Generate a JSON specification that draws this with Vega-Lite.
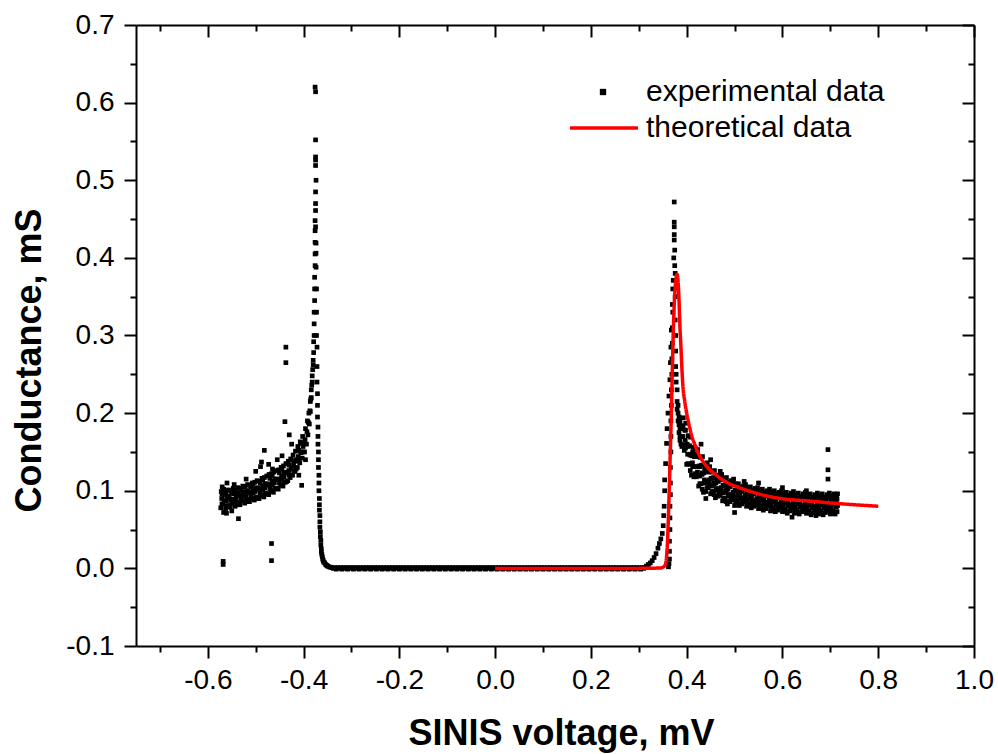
{
"$schema": "https://vega.github.io/schema/vega-lite/v6.json",
"width": 838, "height": 621,
"autosize": {"type": "none"},
"padding": {"left": 136, "top": 25, "right": 24, "bottom": 108},
"background": "white",
"config": {
 "view": {"stroke": null},
 "axis": {"domainColor": "black", "domainWidth": 2, "tickColor": "black", "tickWidth": 2, "labelFont": "Liberation Sans", "labelFontSize": 28, "labelColor": "black", "titleFont": "Liberation Sans", "titleFontSize": 36, "titleFontWeight": "bold", "titleColor": "black", "grid": false, "labelOverlap": false, "labelFlush": false},
 "legend": {"labelFont": "Liberation Sans", "labelFontSize": 30, "labelColor": "black", "padding": 0, "labelLimit": 500}
},
"datasets": {
"exp": [
{"x":-0.573,"y":0.078},{"x":-0.571,"y":0.090},{"x":-0.572,"y":0.099},
{"x":-0.568,"y":0.083},{"x":-0.566,"y":0.095},{"x":-0.567,"y":0.102},{"x":-0.567,"y":0.072},
{"x":-0.563,"y":0.077},{"x":-0.561,"y":0.087},{"x":-0.562,"y":0.098},
{"x":-0.558,"y":0.081},{"x":-0.556,"y":0.093},{"x":-0.557,"y":0.101},
{"x":-0.553,"y":0.079},{"x":-0.551,"y":0.089},{"x":-0.552,"y":0.100},
{"x":-0.548,"y":0.084},{"x":-0.546,"y":0.096},{"x":-0.547,"y":0.103},
{"x":-0.543,"y":0.080},{"x":-0.541,"y":0.091},{"x":-0.542,"y":0.101},
{"x":-0.538,"y":0.085},{"x":-0.536,"y":0.097},{"x":-0.537,"y":0.104},
{"x":-0.533,"y":0.082},{"x":-0.531,"y":0.092},{"x":-0.532,"y":0.103},
{"x":-0.528,"y":0.087},{"x":-0.526,"y":0.098},{"x":-0.527,"y":0.106},
{"x":-0.523,"y":0.084},{"x":-0.521,"y":0.095},{"x":-0.522,"y":0.105},
{"x":-0.518,"y":0.089},{"x":-0.516,"y":0.100},{"x":-0.517,"y":0.108},
{"x":-0.513,"y":0.086},{"x":-0.511,"y":0.097},{"x":-0.512,"y":0.107},
{"x":-0.508,"y":0.090},{"x":-0.506,"y":0.102},{"x":-0.507,"y":0.110},
{"x":-0.503,"y":0.088},{"x":-0.501,"y":0.099},{"x":-0.502,"y":0.111},
{"x":-0.498,"y":0.092},{"x":-0.496,"y":0.104},{"x":-0.497,"y":0.113},
{"x":-0.493,"y":0.090},{"x":-0.491,"y":0.101},{"x":-0.492,"y":0.112},
{"x":-0.488,"y":0.094},{"x":-0.486,"y":0.106},{"x":-0.487,"y":0.116},
{"x":-0.483,"y":0.092},{"x":-0.481,"y":0.104},{"x":-0.482,"y":0.117},
{"x":-0.478,"y":0.097},{"x":-0.476,"y":0.109},{"x":-0.477,"y":0.119},
{"x":-0.473,"y":0.095},{"x":-0.471,"y":0.107},{"x":-0.472,"y":0.121},
{"x":-0.468,"y":0.100},{"x":-0.466,"y":0.112},{"x":-0.467,"y":0.122},
{"x":-0.463,"y":0.098},{"x":-0.461,"y":0.110},{"x":-0.462,"y":0.124},
{"x":-0.458,"y":0.103},{"x":-0.456,"y":0.115},{"x":-0.457,"y":0.126},
{"x":-0.453,"y":0.102},{"x":-0.451,"y":0.114},{"x":-0.452,"y":0.127},
{"x":-0.448,"y":0.107},{"x":-0.446,"y":0.119},{"x":-0.447,"y":0.130},
{"x":-0.443,"y":0.106},{"x":-0.441,"y":0.118},{"x":-0.442,"y":0.132},
{"x":-0.438,"y":0.111},{"x":-0.436,"y":0.123},{"x":-0.437,"y":0.135},
{"x":-0.433,"y":0.113},{"x":-0.431,"y":0.126},{"x":-0.432,"y":0.138},
{"x":-0.428,"y":0.117},{"x":-0.426,"y":0.130},{"x":-0.427,"y":0.141},
{"x":-0.423,"y":0.120},{"x":-0.421,"y":0.133},{"x":-0.422,"y":0.146},
{"x":-0.418,"y":0.125},{"x":-0.416,"y":0.138},{"x":-0.417,"y":0.151},
{"x":-0.413,"y":0.130},{"x":-0.411,"y":0.144},{"x":-0.412,"y":0.157},
{"x":-0.408,"y":0.136},{"x":-0.406,"y":0.150},{"x":-0.407,"y":0.163},
{"x":-0.403,"y":0.142},{"x":-0.401,"y":0.157},{"x":-0.402,"y":0.170},
{"x":-0.398,"y":0.150},{"x":-0.397,"y":0.166},{"x":-0.396,"y":0.180},
{"x":-0.394,"y":0.160},{"x":-0.393,"y":0.176},{"x":-0.392,"y":0.190},
{"x":-0.391,"y":0.172},{"x":-0.390,"y":0.188},{"x":-0.389,"y":0.200},
{"x":-0.388,"y":0.186},{"x":-0.387,"y":0.203},{"x":-0.386,"y":0.215},
{"x":-0.386,"y":0.202},{"x":-0.385,"y":0.218},{"x":-0.384,"y":0.230},
{"x":-0.384,"y":0.220},{"x":-0.383,"y":0.236},{"x":-0.382,"y":0.248},
{"x":-0.382,"y":0.240},{"x":-0.381,"y":0.256},{"x":-0.380,"y":0.268},
{"x":-0.380,"y":0.262},{"x":-0.379,"y":0.278},{"x":-0.379,"y":0.292},
{"x":-0.378,"y":0.300},{"x":-0.378,"y":0.315},{"x":-0.378,"y":0.330},
{"x":-0.377,"y":0.345},{"x":-0.377,"y":0.360},{"x":-0.377,"y":0.375},
{"x":-0.376,"y":0.390},{"x":-0.376,"y":0.405},{"x":-0.376,"y":0.420},
{"x":-0.5705,"y":0.083},{"x":-0.5705,"y":0.096},{"x":-0.5655,"y":0.087},{"x":-0.5655,"y":0.099},{"x":-0.5605,"y":0.080},{"x":-0.5605,"y":0.092},{"x":-0.5555,"y":0.091},{"x":-0.5555,"y":0.079},{"x":-0.5505,"y":0.084},{"x":-0.5505,"y":0.097},{"x":-0.5455,"y":0.089},{"x":-0.5455,"y":0.101},{"x":-0.5405,"y":0.083},{"x":-0.5405,"y":0.095},{"x":-0.5355,"y":0.094},{"x":-0.5355,"y":0.082},{"x":-0.5305,"y":0.088},{"x":-0.5305,"y":0.101},{"x":-0.5255,"y":0.093},{"x":-0.5255,"y":0.105},{"x":-0.5205,"y":0.087},{"x":-0.5205,"y":0.099},{"x":-0.5155,"y":0.098},{"x":-0.5155,"y":0.086},{"x":-0.5105,"y":0.092},{"x":-0.5105,"y":0.105},{"x":-0.5055,"y":0.097},{"x":-0.5055,"y":0.109},{"x":-0.5005,"y":0.091},{"x":-0.5005,"y":0.103},{"x":-0.4955,"y":0.102},{"x":-0.4955,"y":0.090},{"x":-0.4905,"y":0.097},{"x":-0.4905,"y":0.110},{"x":-0.4855,"y":0.102},{"x":-0.4855,"y":0.114},{"x":-0.4805,"y":0.097},{"x":-0.4805,"y":0.109},{"x":-0.4755,"y":0.108},{"x":-0.4755,"y":0.096},{"x":-0.4705,"y":0.103},{"x":-0.4705,"y":0.116},{"x":-0.4655,"y":0.108},{"x":-0.4655,"y":0.120},{"x":-0.4605,"y":0.103},{"x":-0.4605,"y":0.115},{"x":-0.4555,"y":0.115},{"x":-0.4555,"y":0.103},{"x":-0.4505,"y":0.110},{"x":-0.4505,"y":0.123},{"x":-0.4455,"y":0.116},{"x":-0.4455,"y":0.128},{"x":-0.4405,"y":0.111},{"x":-0.4405,"y":0.123},{"x":-0.4355,"y":0.124},{"x":-0.4355,"y":0.112},{"x":-0.4305,"y":0.120},{"x":-0.4305,"y":0.133},{"x":-0.4255,"y":0.128},{"x":-0.4255,"y":0.140},{"x":-0.4205,"y":0.125},{"x":-0.4205,"y":0.137},{"x":-0.4155,"y":0.140},{"x":-0.4155,"y":0.128},{"x":-0.4105,"y":0.139},{"x":-0.4105,"y":0.152},{"x":-0.4055,"y":0.149},{"x":-0.4055,"y":0.161},{"x":-0.4005,"y":0.150},{"x":-0.4005,"y":0.162},
{"x":-0.376,"y":0.435},{"x":-0.376,"y":0.448},{"x":-0.375,"y":0.461},{"x":-0.375,"y":0.485},{"x":-0.375,"y":0.519},{"x":-0.375,"y":0.526},{"x":-0.375,"y":0.530},{"x":-0.375,"y":0.552},{"x":-0.375,"y":0.614},{"x":-0.376,"y":0.620},{"x":-0.374,"y":0.388},{"x":-0.374,"y":0.406},{"x":-0.374,"y":0.419},{"x":-0.375,"y":0.440},{"x":-0.375,"y":0.470},{"x":-0.374,"y":0.500},
{"x":-0.373,"y":0.360},{"x":-0.373,"y":0.330},{"x":-0.373,"y":0.300},{"x":-0.372,"y":0.285},{"x":-0.372,"y":0.260},{"x":-0.372,"y":0.240},{"x":-0.371,"y":0.225},{"x":-0.371,"y":0.210},{"x":-0.371,"y":0.195},{"x":-0.370,"y":0.182},{"x":-0.370,"y":0.170},{"x":-0.370,"y":0.160},{"x":-0.369,"y":0.150},{"x":-0.369,"y":0.140},{"x":-0.369,"y":0.130},{"x":-0.368,"y":0.120},{"x":-0.368,"y":0.110},{"x":-0.368,"y":0.100},{"x":-0.367,"y":0.090},{"x":-0.367,"y":0.082},{"x":-0.367,"y":0.075},{"x":-0.366,"y":0.068},{"x":-0.366,"y":0.060},{"x":-0.366,"y":0.053},{"x":-0.365,"y":0.047},{"x":-0.365,"y":0.041},{"x":-0.364,"y":0.036},{"x":-0.364,"y":0.030},{"x":-0.363,"y":0.025},{"x":-0.363,"y":0.021},{"x":-0.362,"y":0.018},{"x":-0.361,"y":0.015},{"x":-0.360,"y":0.012},{"x":-0.359,"y":0.010},{"x":-0.358,"y":0.008},{"x":-0.356,"y":0.007},{"x":-0.354,"y":0.005},{"x":-0.352,"y":0.004},{"x":-0.350,"y":0.003},{"x":-0.347,"y":0.002},{"x":-0.344,"y":0.0015},{"x":-0.341,"y":0.001},
{"x":-0.500,"y":0.125},{"x":-0.490,"y":0.131},{"x":-0.482,"y":0.152},{"x":-0.488,"y":0.137},{"x":-0.473,"y":0.134},{"x":-0.465,"y":0.128},{"x":-0.455,"y":0.140},{"x":-0.445,"y":0.145},{"x":-0.430,"y":0.172},{"x":-0.425,"y":0.160},{"x":-0.560,"y":0.110},{"x":-0.570,"y":0.105},{"x":-0.545,"y":0.108},{"x":-0.520,"y":0.115},{"x":-0.550,"y":0.074},{"x":-0.536,"y":0.064},{"x":-0.561,"y":0.071},{"x":-0.404,"y":0.107},{"x":-0.410,"y":0.120},{"x":-0.396,"y":0.140},{"x":-0.568,"y":0.009},{"x":-0.568,"y":0.005},{"x":-0.467,"y":0.032},{"x":-0.467,"y":0.010},{"x":-0.437,"y":0.285},{"x":-0.437,"y":0.265},{"x":-0.439,"y":0.189},
{"x":-0.338,"y":0},{"x":-0.332,"y":-0.001},{"x":-0.326,"y":0},{"x":-0.320,"y":-0.001},{"x":-0.314,"y":0},{"x":-0.308,"y":-0.001},{"x":-0.302,"y":0},{"x":-0.296,"y":-0.001},{"x":-0.290,"y":0},{"x":-0.284,"y":-0.001},{"x":-0.278,"y":0},{"x":-0.272,"y":-0.001},{"x":-0.266,"y":0},{"x":-0.260,"y":-0.001},{"x":-0.254,"y":0},{"x":-0.248,"y":-0.001},{"x":-0.242,"y":0},{"x":-0.236,"y":-0.001},{"x":-0.230,"y":0},{"x":-0.224,"y":-0.001},{"x":-0.218,"y":0},{"x":-0.212,"y":-0.001},{"x":-0.206,"y":0},{"x":-0.200,"y":-0.001},{"x":-0.194,"y":0},{"x":-0.188,"y":-0.001},{"x":-0.182,"y":0},{"x":-0.176,"y":-0.001},{"x":-0.170,"y":0},{"x":-0.164,"y":-0.001},{"x":-0.158,"y":0},{"x":-0.152,"y":-0.001},{"x":-0.146,"y":0},{"x":-0.140,"y":-0.001},{"x":-0.134,"y":0},{"x":-0.128,"y":-0.001},{"x":-0.122,"y":0},{"x":-0.116,"y":-0.001},{"x":-0.110,"y":0},{"x":-0.104,"y":-0.001},{"x":-0.098,"y":0},{"x":-0.092,"y":-0.001},{"x":-0.086,"y":0},{"x":-0.080,"y":-0.001},{"x":-0.074,"y":0},{"x":-0.068,"y":-0.001},{"x":-0.062,"y":0},{"x":-0.056,"y":-0.001},{"x":-0.050,"y":0},{"x":-0.044,"y":-0.001},{"x":-0.038,"y":0},{"x":-0.032,"y":-0.001},{"x":-0.026,"y":0},{"x":-0.020,"y":-0.001},{"x":-0.014,"y":0},{"x":-0.008,"y":-0.001},{"x":-0.002,"y":0},{"x":0.004,"y":-0.001},{"x":0.010,"y":0},{"x":0.016,"y":-0.001},{"x":0.022,"y":0},{"x":0.028,"y":-0.001},{"x":0.034,"y":0},{"x":0.040,"y":-0.001},{"x":0.046,"y":0},{"x":0.052,"y":-0.001},{"x":0.058,"y":0},{"x":0.064,"y":-0.001},{"x":0.070,"y":0},{"x":0.076,"y":-0.001},{"x":0.082,"y":0},{"x":0.088,"y":-0.001},{"x":0.094,"y":0},{"x":0.100,"y":-0.001},{"x":0.106,"y":0},{"x":0.112,"y":-0.001},{"x":0.118,"y":0},{"x":0.124,"y":-0.001},{"x":0.130,"y":0},{"x":0.136,"y":-0.001},{"x":0.142,"y":0},{"x":0.148,"y":-0.001},{"x":0.154,"y":0},{"x":0.160,"y":-0.001},{"x":0.166,"y":0},{"x":0.172,"y":-0.001},{"x":0.178,"y":0},{"x":0.184,"y":-0.001},{"x":0.190,"y":0},{"x":0.196,"y":-0.001},{"x":0.202,"y":0},{"x":0.208,"y":-0.001},{"x":0.214,"y":0},{"x":0.220,"y":-0.001},{"x":0.226,"y":0},{"x":0.232,"y":-0.001},{"x":0.238,"y":0},{"x":0.244,"y":-0.001},{"x":0.250,"y":0},{"x":0.256,"y":-0.001},{"x":0.262,"y":0},{"x":0.268,"y":-0.001},{"x":0.274,"y":0},{"x":0.280,"y":-0.001},{"x":0.286,"y":0},{"x":0.292,"y":-0.001},{"x":0.298,"y":0},{"x":0.304,"y":-0.001},{"x":0.310,"y":0},
{"x":-0.335,"y":0.001},{"x":-0.329,"y":0.001},{"x":-0.323,"y":0.001},{"x":-0.317,"y":0.001},{"x":-0.311,"y":0.001},{"x":-0.305,"y":0.001},{"x":-0.299,"y":0.001},{"x":-0.293,"y":0.001},{"x":-0.287,"y":0.001},{"x":-0.281,"y":0.001},{"x":-0.275,"y":0.001},{"x":-0.269,"y":0.001},{"x":-0.263,"y":0.001},{"x":-0.257,"y":0.001},{"x":-0.251,"y":0.001},{"x":-0.245,"y":0.001},{"x":-0.239,"y":0.001},{"x":-0.233,"y":0.001},{"x":-0.227,"y":0.001},{"x":-0.221,"y":0.001},{"x":-0.215,"y":0.001},{"x":-0.209,"y":0.001},{"x":-0.203,"y":0.001},{"x":-0.197,"y":0.001},{"x":-0.191,"y":0.001},{"x":-0.185,"y":0.001},{"x":-0.179,"y":0.001},{"x":-0.173,"y":0.001},{"x":-0.167,"y":0.001},{"x":-0.161,"y":0.001},{"x":-0.155,"y":0.001},{"x":-0.149,"y":0.001},{"x":-0.143,"y":0.001},{"x":-0.137,"y":0.001},{"x":-0.131,"y":0.001},{"x":-0.125,"y":0.001},{"x":-0.119,"y":0.001},{"x":-0.113,"y":0.001},{"x":-0.107,"y":0.001},{"x":-0.101,"y":0.001},{"x":-0.095,"y":0.001},{"x":-0.089,"y":0.001},{"x":-0.083,"y":0.001},{"x":-0.077,"y":0.001},{"x":-0.071,"y":0.001},{"x":-0.065,"y":0.001},{"x":-0.059,"y":0.001},{"x":-0.053,"y":0.001},{"x":-0.047,"y":0.001},{"x":-0.041,"y":0.001},{"x":-0.035,"y":0.001},{"x":-0.029,"y":0.001},{"x":-0.023,"y":0.001},{"x":-0.017,"y":0.001},{"x":-0.011,"y":0.001},{"x":-0.005,"y":0.001},{"x":0.001,"y":0.001},{"x":0.007,"y":0.001},{"x":0.013,"y":0.001},{"x":0.019,"y":0.001},{"x":0.025,"y":0.001},{"x":0.031,"y":0.001},{"x":0.037,"y":0.001},{"x":0.043,"y":0.001},{"x":0.049,"y":0.001},{"x":0.055,"y":0.001},{"x":0.061,"y":0.001},{"x":0.067,"y":0.001},{"x":0.073,"y":0.001},{"x":0.079,"y":0.001},{"x":0.085,"y":0.001},{"x":0.091,"y":0.001},{"x":0.097,"y":0.001},{"x":0.103,"y":0.001},{"x":0.109,"y":0.001},{"x":0.115,"y":0.001},{"x":0.121,"y":0.001},{"x":0.127,"y":0.001},{"x":0.133,"y":0.001},{"x":0.139,"y":0.001},{"x":0.145,"y":0.001},{"x":0.151,"y":0.001},{"x":0.157,"y":0.001},{"x":0.163,"y":0.001},{"x":0.169,"y":0.001},{"x":0.175,"y":0.001},{"x":0.181,"y":0.001},{"x":0.187,"y":0.001},{"x":0.193,"y":0.001},{"x":0.199,"y":0.001},{"x":0.205,"y":0.001},{"x":0.211,"y":0.001},{"x":0.217,"y":0.001},{"x":0.223,"y":0.001},{"x":0.229,"y":0.001},{"x":0.235,"y":0.001},{"x":0.241,"y":0.001},{"x":0.247,"y":0.001},{"x":0.253,"y":0.001},{"x":0.259,"y":0.001},{"x":0.265,"y":0.001},{"x":0.271,"y":0.001},{"x":0.277,"y":0.001},{"x":0.283,"y":0.001},{"x":0.289,"y":0.001},{"x":0.295,"y":0.001},{"x":0.301,"y":0.001},{"x":0.307,"y":0.001},
{"x":0.312,"y":0.001},{"x":0.316,"y":0.003},{"x":0.320,"y":0.005},{"x":0.324,"y":0.007},{"x":0.328,"y":0.010},{"x":0.332,"y":0.014},{"x":0.336,"y":0.019},{"x":0.340,"y":0.026},{"x":0.343,"y":0.032},{"x":0.346,"y":0.038},{"x":0.349,"y":0.045},{"x":0.351,"y":0.055},{"x":0.352,"y":0.068},{"x":0.353,"y":0.080},{"x":0.354,"y":0.100},{"x":0.354,"y":0.114},{"x":0.356,"y":0.135},{"x":0.358,"y":0.161},{"x":0.359,"y":0.180},{"x":0.361,"y":0.200},{"x":0.363,"y":0.222},{"x":0.365,"y":0.243},{"x":0.366,"y":0.265},{"x":0.367,"y":0.285},{"x":0.368,"y":0.307},{"x":0.370,"y":0.340},{"x":0.372,"y":0.371},{"x":0.373,"y":0.400},{"x":0.374,"y":0.423},{"x":0.374,"y":0.446},{"x":0.374,"y":0.472},{"x":0.374,"y":0.440},{"x":0.374,"y":0.430},{"x":0.375,"y":0.410},{"x":0.375,"y":0.390},
{"x":0.362,"y":0.002},{"x":0.363,"y":0.006},{"x":0.364,"y":0.012},{"x":0.364,"y":0.022},{"x":0.364,"y":0.035},{"x":0.365,"y":0.050},{"x":0.365,"y":0.065},{"x":0.365,"y":0.080},{"x":0.366,"y":0.095},{"x":0.366,"y":0.110},{"x":0.366,"y":0.130},{"x":0.367,"y":0.150},{"x":0.367,"y":0.170},{"x":0.367,"y":0.190},{"x":0.368,"y":0.210},{"x":0.368,"y":0.230},{"x":0.369,"y":0.250},{"x":0.369,"y":0.270},{"x":0.370,"y":0.290},{"x":0.370,"y":0.310},{"x":0.371,"y":0.330},{"x":0.371,"y":0.360},
{"x":0.376,"y":0.380},{"x":0.376,"y":0.350},{"x":0.376,"y":0.320},{"x":0.377,"y":0.300},{"x":0.377,"y":0.280},{"x":0.377,"y":0.260},{"x":0.378,"y":0.250},{"x":0.378,"y":0.240},{"x":0.380,"y":0.230},{"x":0.380,"y":0.215},{"x":0.380,"y":0.205},{"x":0.382,"y":0.200},{"x":0.382,"y":0.190},{"x":0.382,"y":0.210},{"x":0.384,"y":0.185},{"x":0.384,"y":0.195},{"x":0.384,"y":0.175},{"x":0.386,"y":0.180},{"x":0.386,"y":0.170},{"x":0.386,"y":0.190},{"x":0.386,"y":0.165},{"x":0.388,"y":0.170},{"x":0.388,"y":0.160},{"x":0.388,"y":0.180},
{"x":0.390,"y":0.157},{"x":0.392,"y":0.170},{"x":0.391,"y":0.183},{"x":0.393,"y":0.194},
{"x":0.395,"y":0.152},{"x":0.397,"y":0.165},{"x":0.396,"y":0.178},{"x":0.398,"y":0.187},
{"x":0.400,"y":0.134},{"x":0.402,"y":0.147},{"x":0.401,"y":0.160},{"x":0.403,"y":0.171},
{"x":0.405,"y":0.134},{"x":0.407,"y":0.146},{"x":0.406,"y":0.158},{"x":0.408,"y":0.169},
{"x":0.410,"y":0.120},{"x":0.412,"y":0.136},{"x":0.411,"y":0.145},{"x":0.413,"y":0.156},
{"x":0.415,"y":0.118},{"x":0.417,"y":0.131},{"x":0.416,"y":0.144},{"x":0.418,"y":0.155},
{"x":0.420,"y":0.118},{"x":0.422,"y":0.131},{"x":0.421,"y":0.144},{"x":0.423,"y":0.153},
{"x":0.425,"y":0.106},{"x":0.427,"y":0.119},{"x":0.426,"y":0.132},{"x":0.428,"y":0.143},
{"x":0.430,"y":0.109},{"x":0.432,"y":0.121},{"x":0.431,"y":0.133},{"x":0.433,"y":0.144},
{"x":0.435,"y":0.098},{"x":0.437,"y":0.114},{"x":0.436,"y":0.123},{"x":0.438,"y":0.134},
{"x":0.440,"y":0.099},{"x":0.442,"y":0.112},{"x":0.441,"y":0.125},{"x":0.443,"y":0.136},
{"x":0.445,"y":0.104},{"x":0.447,"y":0.114},{"x":0.446,"y":0.124},{"x":0.448,"y":0.131},
{"x":0.450,"y":0.096},{"x":0.452,"y":0.106},{"x":0.451,"y":0.116},{"x":0.453,"y":0.124},
{"x":0.455,"y":0.099},{"x":0.457,"y":0.109},{"x":0.456,"y":0.117},{"x":0.458,"y":0.126},
{"x":0.460,"y":0.091},{"x":0.462,"y":0.103},{"x":0.461,"y":0.110},{"x":0.463,"y":0.119},
{"x":0.465,"y":0.093},{"x":0.467,"y":0.102},{"x":0.466,"y":0.112},{"x":0.468,"y":0.120},
{"x":0.470,"y":0.094},{"x":0.472,"y":0.104},{"x":0.471,"y":0.114},{"x":0.473,"y":0.121},
{"x":0.475,"y":0.087},{"x":0.477,"y":0.097},{"x":0.476,"y":0.107},{"x":0.478,"y":0.115},
{"x":0.480,"y":0.090},{"x":0.482,"y":0.100},{"x":0.481,"y":0.108},{"x":0.483,"y":0.117},
{"x":0.485,"y":0.083},{"x":0.487,"y":0.095},{"x":0.486,"y":0.102},{"x":0.488,"y":0.111},
{"x":0.490,"y":0.086},{"x":0.492,"y":0.095},{"x":0.491,"y":0.105},{"x":0.493,"y":0.113},
{"x":0.495,"y":0.088},{"x":0.497,"y":0.098},{"x":0.496,"y":0.108},{"x":0.498,"y":0.115},
{"x":0.500,"y":0.081},{"x":0.502,"y":0.091},{"x":0.501,"y":0.101},{"x":0.503,"y":0.109},
{"x":0.505,"y":0.087},{"x":0.507,"y":0.095},{"x":0.506,"y":0.102},{"x":0.508,"y":0.109},
{"x":0.510,"y":0.081},{"x":0.512,"y":0.091},{"x":0.511,"y":0.097},{"x":0.513,"y":0.104},
{"x":0.515,"y":0.083},{"x":0.517,"y":0.091},{"x":0.516,"y":0.099},{"x":0.518,"y":0.106},
{"x":0.520,"y":0.086},{"x":0.522,"y":0.094},{"x":0.521,"y":0.102},{"x":0.523,"y":0.108},
{"x":0.525,"y":0.080},{"x":0.527,"y":0.088},{"x":0.526,"y":0.096},{"x":0.528,"y":0.103},
{"x":0.530,"y":0.083},{"x":0.532,"y":0.091},{"x":0.531,"y":0.098},{"x":0.533,"y":0.105},
{"x":0.535,"y":0.078},{"x":0.537,"y":0.088},{"x":0.536,"y":0.094},{"x":0.538,"y":0.101},
{"x":0.540,"y":0.080},{"x":0.542,"y":0.088},{"x":0.541,"y":0.096},{"x":0.543,"y":0.103},
{"x":0.545,"y":0.082},{"x":0.547,"y":0.090},{"x":0.546,"y":0.098},{"x":0.548,"y":0.104},
{"x":0.550,"y":0.077},{"x":0.552,"y":0.085},{"x":0.551,"y":0.093},{"x":0.553,"y":0.100},
{"x":0.555,"y":0.080},{"x":0.557,"y":0.088},{"x":0.556,"y":0.095},{"x":0.558,"y":0.102},
{"x":0.560,"y":0.075},{"x":0.562,"y":0.085},{"x":0.561,"y":0.091},{"x":0.563,"y":0.098},
{"x":0.565,"y":0.077},{"x":0.567,"y":0.085},{"x":0.566,"y":0.093},{"x":0.568,"y":0.100},
{"x":0.570,"y":0.080},{"x":0.572,"y":0.088},{"x":0.571,"y":0.096},{"x":0.573,"y":0.102},
{"x":0.575,"y":0.074},{"x":0.577,"y":0.082},{"x":0.576,"y":0.090},{"x":0.578,"y":0.097},
{"x":0.580,"y":0.078},{"x":0.582,"y":0.086},{"x":0.581,"y":0.093},{"x":0.583,"y":0.100},
{"x":0.585,"y":0.073},{"x":0.587,"y":0.083},{"x":0.586,"y":0.089},{"x":0.588,"y":0.096},
{"x":0.590,"y":0.075},{"x":0.592,"y":0.083},{"x":0.591,"y":0.091},{"x":0.593,"y":0.098},
{"x":0.595,"y":0.078},{"x":0.597,"y":0.086},{"x":0.596,"y":0.094},{"x":0.598,"y":0.100},
{"x":0.600,"y":0.073},{"x":0.602,"y":0.081},{"x":0.601,"y":0.089},{"x":0.603,"y":0.096},
{"x":0.605,"y":0.076},{"x":0.607,"y":0.084},{"x":0.606,"y":0.091},{"x":0.608,"y":0.098},
{"x":0.610,"y":0.071},{"x":0.612,"y":0.081},{"x":0.611,"y":0.087},{"x":0.613,"y":0.094},
{"x":0.615,"y":0.074},{"x":0.617,"y":0.082},{"x":0.616,"y":0.090},{"x":0.618,"y":0.097},
{"x":0.620,"y":0.077},{"x":0.622,"y":0.085},{"x":0.621,"y":0.093},{"x":0.623,"y":0.099},
{"x":0.625,"y":0.071},{"x":0.627,"y":0.079},{"x":0.626,"y":0.087},{"x":0.628,"y":0.094},
{"x":0.630,"y":0.075},{"x":0.632,"y":0.083},{"x":0.631,"y":0.090},{"x":0.633,"y":0.097},
{"x":0.635,"y":0.070},{"x":0.637,"y":0.080},{"x":0.636,"y":0.086},{"x":0.638,"y":0.093},
{"x":0.640,"y":0.073},{"x":0.642,"y":0.081},{"x":0.641,"y":0.089},{"x":0.643,"y":0.096},
{"x":0.645,"y":0.076},{"x":0.647,"y":0.084},{"x":0.646,"y":0.092},{"x":0.648,"y":0.098},
{"x":0.650,"y":0.071},{"x":0.652,"y":0.079},{"x":0.651,"y":0.087},{"x":0.653,"y":0.094},
{"x":0.655,"y":0.074},{"x":0.657,"y":0.082},{"x":0.656,"y":0.089},{"x":0.658,"y":0.096},
{"x":0.660,"y":0.069},{"x":0.662,"y":0.079},{"x":0.661,"y":0.085},{"x":0.663,"y":0.092},
{"x":0.665,"y":0.072},{"x":0.667,"y":0.080},{"x":0.666,"y":0.088},{"x":0.668,"y":0.095},
{"x":0.670,"y":0.075},{"x":0.672,"y":0.083},{"x":0.671,"y":0.091},{"x":0.673,"y":0.097},
{"x":0.675,"y":0.070},{"x":0.677,"y":0.078},{"x":0.676,"y":0.086},{"x":0.678,"y":0.093},
{"x":0.680,"y":0.074},{"x":0.682,"y":0.082},{"x":0.681,"y":0.089},{"x":0.683,"y":0.096},
{"x":0.685,"y":0.069},{"x":0.687,"y":0.079},{"x":0.686,"y":0.085},{"x":0.688,"y":0.092},
{"x":0.690,"y":0.072},{"x":0.692,"y":0.080},{"x":0.691,"y":0.088},{"x":0.693,"y":0.095},
{"x":0.695,"y":0.075},{"x":0.697,"y":0.083},{"x":0.696,"y":0.091},{"x":0.698,"y":0.097},
{"x":0.700,"y":0.070},{"x":0.702,"y":0.078},{"x":0.701,"y":0.086},{"x":0.703,"y":0.093},
{"x":0.705,"y":0.074},{"x":0.707,"y":0.082},{"x":0.706,"y":0.089},{"x":0.708,"y":0.096},
{"x":0.710,"y":0.070},{"x":0.712,"y":0.080},{"x":0.711,"y":0.086},{"x":0.713,"y":0.093},
{"x":0.714,"y":0.073},{"x":0.715,"y":0.081},{"x":0.714,"y":0.089},{"x":0.715,"y":0.096},
{"x":0.3925,"y":0.159},{"x":0.3925,"y":0.184},{"x":0.3975,"y":0.155},{"x":0.3975,"y":0.178},{"x":0.4025,"y":0.135},{"x":0.4025,"y":0.157},{"x":0.4075,"y":0.147},{"x":0.4075,"y":0.126},{"x":0.4125,"y":0.131},{"x":0.4125,"y":0.150},{"x":0.4175,"y":0.122},{"x":0.4175,"y":0.147},{"x":0.4225,"y":0.124},{"x":0.4225,"y":0.147},{"x":0.4275,"y":0.109},{"x":0.4275,"y":0.131},{"x":0.4325,"y":0.123},{"x":0.4325,"y":0.102},{"x":0.4375,"y":0.110},{"x":0.4375,"y":0.129},{"x":0.4425,"y":0.104},{"x":0.4425,"y":0.129},
{"x":0.4475,"y":0.109},{"x":0.4475,"y":0.126},{"x":0.4525,"y":0.099},{"x":0.4525,"y":0.116},{"x":0.4575,"y":0.110},{"x":0.4575,"y":0.095},{"x":0.4625,"y":0.101},{"x":0.4625,"y":0.115},{"x":0.4675,"y":0.097},{"x":0.4675,"y":0.116},{"x":0.4725,"y":0.099},{"x":0.4725,"y":0.116},{"x":0.4775,"y":0.090},{"x":0.4775,"y":0.107},{"x":0.4825,"y":0.101},{"x":0.4825,"y":0.086},{"x":0.4875,"y":0.093},{"x":0.4875,"y":0.107},{"x":0.4925,"y":0.090},{"x":0.4925,"y":0.109},{"x":0.4975,"y":0.093},{"x":0.4975,"y":0.110},
{"x":0.5025,"y":0.086},{"x":0.5025,"y":0.100},{"x":0.5075,"y":0.096},{"x":0.5075,"y":0.083},{"x":0.5125,"y":0.089},{"x":0.5125,"y":0.101},{"x":0.5175,"y":0.087},{"x":0.5175,"y":0.103},{"x":0.5225,"y":0.090},{"x":0.5225,"y":0.104},{"x":0.5275,"y":0.082},{"x":0.5275,"y":0.096},{"x":0.5325,"y":0.093},{"x":0.5325,"y":0.080},{"x":0.5375,"y":0.086},{"x":0.5375,"y":0.098},{"x":0.5425,"y":0.083},{"x":0.5425,"y":0.099},{"x":0.5475,"y":0.087},{"x":0.5475,"y":0.101},{"x":0.5525,"y":0.079},{"x":0.5525,"y":0.093},{"x":0.5575,"y":0.090},{"x":0.5575,"y":0.077},{"x":0.5625,"y":0.083},{"x":0.5625,"y":0.095},{"x":0.5675,"y":0.081},{"x":0.5675,"y":0.097},{"x":0.5725,"y":0.084},{"x":0.5725,"y":0.098},{"x":0.5775,"y":0.077},{"x":0.5775,"y":0.091},{"x":0.5825,"y":0.088},{"x":0.5825,"y":0.075},{"x":0.5875,"y":0.081},{"x":0.5875,"y":0.093},{"x":0.5925,"y":0.079},{"x":0.5925,"y":0.095},{"x":0.5975,"y":0.083},{"x":0.5975,"y":0.097},
{"x":0.6025,"y":0.075},{"x":0.6025,"y":0.089},{"x":0.6075,"y":0.086},{"x":0.6075,"y":0.073},{"x":0.6125,"y":0.080},{"x":0.6125,"y":0.092},{"x":0.6175,"y":0.078},{"x":0.6175,"y":0.094},{"x":0.6225,"y":0.081},{"x":0.6225,"y":0.095},{"x":0.6275,"y":0.074},{"x":0.6275,"y":0.088},{"x":0.6325,"y":0.085},{"x":0.6325,"y":0.072},{"x":0.6375,"y":0.079},{"x":0.6375,"y":0.091},{"x":0.6425,"y":0.077},{"x":0.6425,"y":0.093},{"x":0.6475,"y":0.081},{"x":0.6475,"y":0.095},{"x":0.6525,"y":0.073},{"x":0.6525,"y":0.087},{"x":0.6575,"y":0.084},{"x":0.6575,"y":0.071},{"x":0.6625,"y":0.078},{"x":0.6625,"y":0.090},{"x":0.6675,"y":0.076},{"x":0.6675,"y":0.092},{"x":0.6725,"y":0.080},{"x":0.6725,"y":0.094},{"x":0.6775,"y":0.073},{"x":0.6775,"y":0.087},{"x":0.6825,"y":0.084},{"x":0.6825,"y":0.071},{"x":0.6875,"y":0.078},{"x":0.6875,"y":0.090},{"x":0.6925,"y":0.076},{"x":0.6925,"y":0.092},{"x":0.6975,"y":0.080},{"x":0.6975,"y":0.094},{"x":0.7025,"y":0.073},{"x":0.7025,"y":0.087},{"x":0.7075,"y":0.084},{"x":0.7075,"y":0.071},{"x":0.7125,"y":0.079},{"x":0.7125,"y":0.091},
{"x":0.695,"y":0.153},{"x":0.695,"y":0.127},{"x":0.695,"y":0.115},{"x":0.430,"y":0.160},{"x":0.450,"y":0.140},{"x":0.470,"y":0.125},{"x":0.520,"y":0.112},{"x":0.550,"y":0.110},{"x":0.600,"y":0.104},{"x":0.650,"y":0.100},{"x":0.440,"y":0.090},{"x":0.500,"y":0.072},{"x":0.620,"y":0.066},{"x":0.670,"y":0.068}
],
"theo": [
{"x":0.000,"y":0},{"x":0.100,"y":0},{"x":0.200,"y":0},{"x":0.300,"y":0},{"x":0.345,"y":0.0005},{"x":0.352,"y":0.002},{"x":0.356,"y":0.006},{"x":0.358,"y":0.015},{"x":0.360,"y":0.035},{"x":0.362,"y":0.070},{"x":0.364,"y":0.110},{"x":0.366,"y":0.155},{"x":0.368,"y":0.200},{"x":0.370,"y":0.255},{"x":0.372,"y":0.305},{"x":0.374,"y":0.340},{"x":0.376,"y":0.362},{"x":0.378,"y":0.375},{"x":0.380,"y":0.379},{"x":0.382,"y":0.370},{"x":0.384,"y":0.345},{"x":0.386,"y":0.310},{"x":0.388,"y":0.285},{"x":0.390,"y":0.258},{"x":0.392,"y":0.236},{"x":0.396,"y":0.215},{"x":0.400,"y":0.200},{"x":0.405,"y":0.185},{"x":0.410,"y":0.172},{"x":0.418,"y":0.158},{"x":0.427,"y":0.145},{"x":0.441,"y":0.132},{"x":0.460,"y":0.121},{"x":0.483,"y":0.111},{"x":0.510,"y":0.104},{"x":0.539,"y":0.098},{"x":0.570,"y":0.093},{"x":0.608,"y":0.089},{"x":0.650,"y":0.087},{"x":0.706,"y":0.084},{"x":0.750,"y":0.082},{"x":0.800,"y":0.080}
]
},
"layer": [
 {
  "data": {"name": "exp"},
  "mark": {"type": "point", "shape": "square", "filled": true, "size": 22, "opacity": 1},
  "encoding": {
   "x": {"field": "x", "type": "quantitative", "scale": {"domain": [-0.75, 1.0], "nice": false, "zero": false},
     "axis": {"orient": "bottom", "values": [-0.7,-0.6,-0.5,-0.4,-0.3,-0.2,-0.1,0,0.1,0.2,0.3,0.4,0.5,0.6,0.7,0.8,0.9,1.0],
       "tickSize": {"condition": {"test": "abs(round(datum.value*10))%2==0", "value": 12}, "value": 6},
       "labelExpr": "abs(round(datum.value*10))%2==0 ? (datum.value<0?'-':'')+format(abs(datum.value),'.1f') : ''",
       "labelPadding": 8, "title": "SINIS voltage, mV", "titleX": 425, "titleY": 98, "titleBaseline": "alphabetic", "titleAlign": "center"}},
   "y": {"field": "y", "type": "quantitative", "scale": {"domain": [-0.1, 0.7], "nice": false, "zero": false},
     "axis": {"orient": "left", "values": [-0.1,-0.05,0,0.05,0.1,0.15,0.2,0.25,0.3,0.35,0.4,0.45,0.5,0.55,0.6,0.65,0.7],
       "tickSize": {"condition": {"test": "abs(round(datum.value*20))%2==0", "value": 12}, "value": 6},
       "labelExpr": "abs(round(datum.value*20))%2==0 ? (datum.value<0?'-':'')+format(abs(datum.value),'.1f') : ''",
       "labelPadding": 10, "title": "Conductance, mS", "titleX": -96, "titleY": 335, "titleAngle": -90, "titleBaseline": "alphabetic", "titleAlign": "center"}},
   "color": {"datum": "experimental data", "scale": {"domain": ["experimental data"], "range": ["#000000"]},
     "legend": {"orient": "none", "legendX": 452, "legendY": 52, "title": null, "symbolType": "square", "symbolSize": 40, "symbolStrokeWidth": 0, "labelOffset": 28}}
  }
 },
 {
  "data": {"name": "theo"},
  "mark": {"type": "line", "color": "#ff0000", "strokeWidth": 3.5, "interpolate": "monotone"},
  "encoding": {
   "x": {"field": "x", "type": "quantitative",
     "axis": {"orient": "top", "values": [-0.7,-0.6,-0.5,-0.4,-0.3,-0.2,-0.1,0,0.1,0.2,0.3,0.4,0.5,0.6,0.7,0.8,0.9,1.0],
       "tickSize": {"condition": {"test": "abs(round(datum.value*10))%2==0", "value": -12}, "value": -6},
       "labels": false, "title": null}},
   "y": {"field": "y", "type": "quantitative",
     "axis": {"orient": "right", "values": [-0.1,-0.05,0,0.05,0.1,0.15,0.2,0.25,0.3,0.35,0.4,0.45,0.5,0.55,0.6,0.65,0.7],
       "tickSize": {"condition": {"test": "abs(round(datum.value*20))%2==0", "value": -12}, "value": -6},
       "labels": false, "title": null}},
   "strokeDash": {"datum": "theoretical data", "scale": {"domain": ["theoretical data"], "range": [[1, 0]]},
     "legend": {"orient": "none", "legendX": 432, "legendY": 67, "title": null, "symbolType": "stroke", "symbolSize": 4624, "symbolStrokeColor": "#ff0000", "symbolStrokeWidth": 3.5, "labelOffset": 6}}
  }
 }
],
"resolve": {"axis": {"x": "independent", "y": "independent"}}
}
